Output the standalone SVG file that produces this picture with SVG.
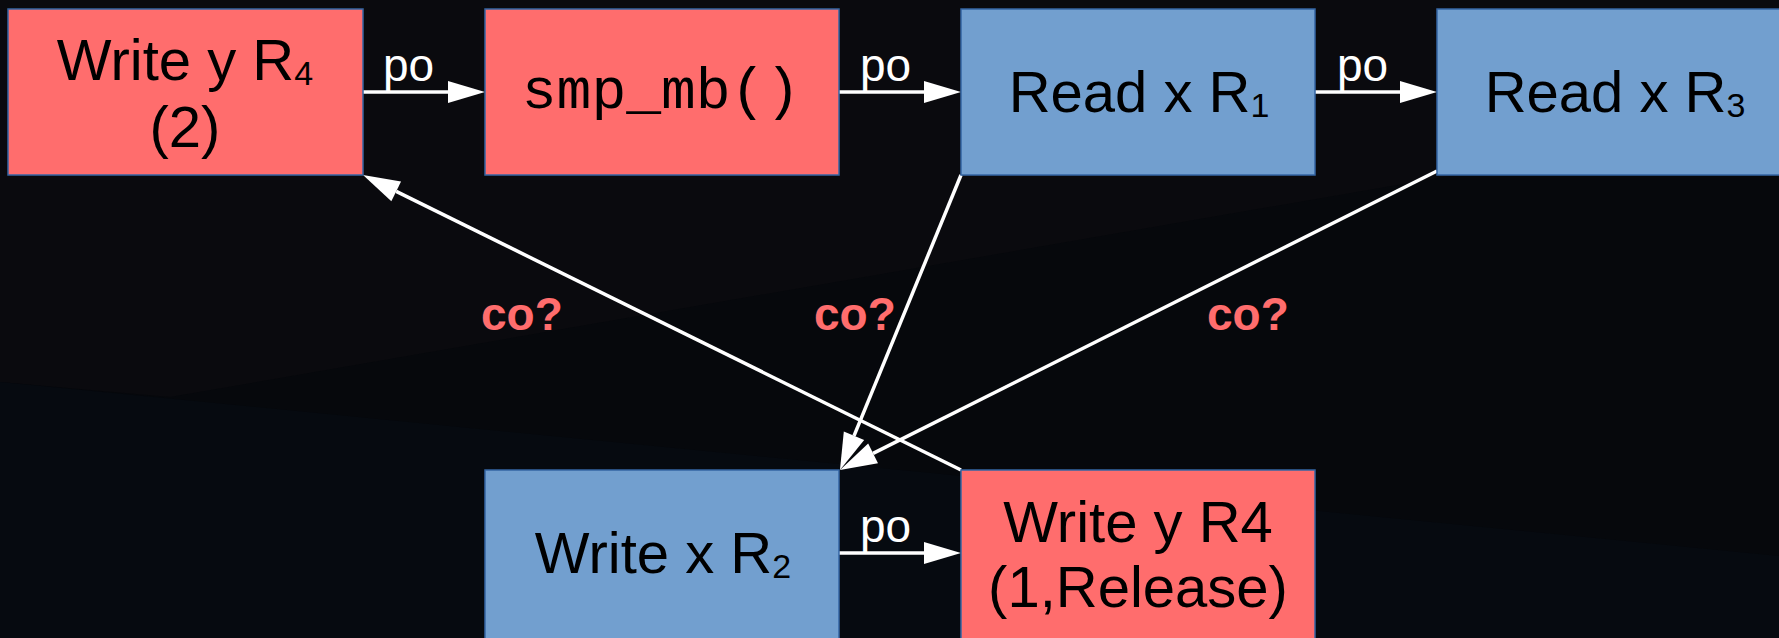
<svg xmlns="http://www.w3.org/2000/svg" width="1779" height="638" viewBox="0 0 1779 638">
  <style>
    .red { fill: #ff6d6d; stroke: #3465a4; stroke-width: 1.5; }
    .blue { fill: #729fcf; stroke: #3465a4; stroke-width: 1.5; }
    .lbl { font-family: "Liberation Sans", Arial, sans-serif; font-size: 58px; fill: #000000; text-anchor: middle; }
    .mono { font-family: "Liberation Mono", "Courier New", monospace; font-size: 58px; fill: #000000; text-anchor: middle; }
    .sub { font-size: 34px; }
    .po { font-family: "Liberation Sans", Arial, sans-serif; font-size: 46px; fill: #ffffff; }
    .co { font-family: "Liberation Sans", Arial, sans-serif; font-size: 46px; font-weight: bold; fill: #ff6d6d; }
    .edge { stroke: #ffffff; stroke-width: 3.5; fill: none; marker-end: url(#arr); }
  </style>
  <defs>
    <marker id="arr" markerUnits="userSpaceOnUse" markerWidth="38" markerHeight="24" refX="0" refY="11" orient="auto" overflow="visible">
      <path d="M0,0 L37,11 L0,22 z" fill="#ffffff"/>
    </marker>
  </defs>

  <!-- background -->
  <rect x="0" y="0" width="1779" height="638" fill="#06080c"/>
  <polygon points="0,0 1779,0 1779,119 170,397 0,382" fill="#0a0a0e"/>
  <polygon points="0,382 1779,556 1779,638 0,638" fill="#060a10"/>

  <g id="connectors">
    <line class="edge" x1="363" y1="92" x2="448" y2="92"/>
    <line class="edge" x1="839" y1="92" x2="924" y2="92"/>
    <line class="edge" x1="1315" y1="92" x2="1400" y2="92"/>
    <line class="edge" x1="839" y1="553" x2="924" y2="553"/>
    <line class="edge" x1="961" y1="470" x2="396.2" y2="191.4"/>
    <line class="edge" x1="961" y1="175" x2="854" y2="435.8"/>
    <line class="edge" x1="1437" y1="171" x2="873.1" y2="453.4"/>
    <text class="po" x="383" y="81">po</text>
    <text class="po" x="860" y="81">po</text>
    <text class="po" x="1337" y="81">po</text>
    <text class="po" x="860" y="542">po</text>
    <text class="co" x="481" y="330">co?</text>
    <text class="co" x="814" y="330">co?</text>
    <text class="co" x="1207" y="330">co?</text>
  </g>

  <g id="n1">
    <rect class="red" x="8" y="9" width="355" height="166"/>
    <text class="lbl" x="185" y="80">Write y R<tspan class="sub" dy="5">4</tspan></text>
    <text class="lbl" x="185" y="147">(2)</text>
  </g>
  <g id="n2">
    <rect class="red" x="485" y="9" width="354" height="166"/>
    <text class="mono" x="661" y="108">smp_mb()</text>
  </g>
  <g id="n3">
    <rect class="blue" x="961" y="9" width="354" height="166"/>
    <text class="lbl" x="1139" y="112">Read x R<tspan class="sub" dy="5">1</tspan></text>
  </g>
  <g id="n4">
    <rect class="blue" x="1437" y="9" width="355" height="166"/>
    <text class="lbl" x="1615" y="112">Read x R<tspan class="sub" dy="5">3</tspan></text>
  </g>
  <g id="n5">
    <rect class="blue" x="485" y="470" width="354" height="170"/>
    <text class="lbl" x="663" y="573">Write x R<tspan class="sub" dy="5">2</tspan></text>
  </g>
  <g id="n6">
    <rect class="red" x="961" y="470" width="354" height="170"/>
    <text class="lbl" x="1138" y="542">Write y R4</text>
    <text class="lbl" x="1138" y="607">(1,Release)</text>
  </g>
</svg>
